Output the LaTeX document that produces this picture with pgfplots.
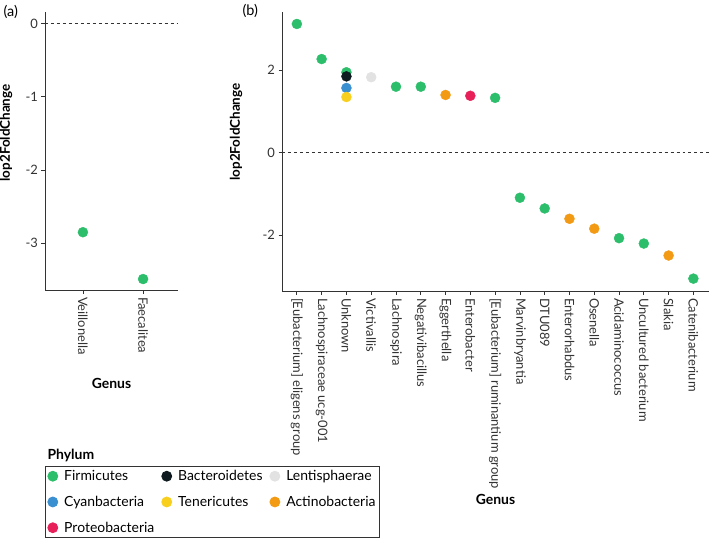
\documentclass[border=0pt]{standalone}
\usepackage{fontspec}
\setmainfont{Lato}
\usepackage{pgfplots}
\pgfplotsset{compat=1.18}

\definecolor{firm}{HTML}{2DBE6C}
\definecolor{bact}{HTML}{0E1A1F}
\definecolor{lent}{HTML}{E2E2E2}
\definecolor{cyano}{HTML}{3A8FD0}
\definecolor{tene}{HTML}{F8CF1C}
\definecolor{acti}{HTML}{F39A15}
\definecolor{prot}{HTML}{E8205A}
\definecolor{axgray}{HTML}{333333}

\pgfplotsset{
  volc/.style={
    scale only axis,
    axis x line*=bottom, axis y line*=left,
    axis line style={axgray, line width=0.9pt},
    tick style={axgray, line width=0.8pt},
    tick align=outside, major tick length=3.5bp,
    tick label style={font=\fontsize{13}{15}\selectfont, text=axgray},
    /pgf/number format/assume math mode=true,
    ylabel style={font=\bfseries\fontsize{13.5}{15}\selectfont},
    xlabel style={font=\bfseries\fontsize{14}{16}\selectfont},
    x tick label style={rotate=-90, anchor=west},
    clip=false,
  },
  pt/.style={only marks, mark=*, mark size=5bp, color=#1, mark options={draw=#1, fill=#1}},
}

\begin{document}
\begin{tikzpicture}
\useasboundingbox (0,0) rectangle (709bp,-539bp);

% panel (a)
\begin{axis}[volc,
  at={(45bp,-290bp)}, anchor=south west,
  width=133bp, height=278bp,
  xmin=-0.63, xmax=1.58, ymin=-3.64, ymax=0.16,
  xtick={0,1}, xticklabels={Veillonella, Faecalitea},
  ytick={-3,-2,-1,0},
  ylabel={lop2FoldChange}, xlabel={Genus},
  ylabel style={at={(axis description cs:-0.22,0.565)}},
  xlabel style={at={(axis description cs:0.5,-0.305)}},
]
\addplot[black!80, dashed, line width=0.6pt, forget plot] coordinates {(-0.63,0) (1.58,0)};
\addplot[pt=firm] coordinates {(0,-2.85) (1,-3.49)};
\end{axis}
\node[anchor=west, font=\fontsize{14.5}{16}\selectfont] at (0bp,-12bp) {(a)};

% panel (b)
\begin{axis}[volc,
  at={(282bp,-291bp)}, anchor=south west,
  width=427bp, height=279bp,
  xmin=-0.6, xmax=16.63, ymin=-3.35, ymax=3.41,
  xtick={0,...,16},
  xticklabels={{[Eubacterium] eligens group}, {Lachnospiraceae ucg-001}, {Unknown},
    {Victivallis}, {Lachnospira}, {Negativibacillus}, {Eggerthella}, {Enterobacter},
    {[Eubacterium] ruminantium group}, {Marvinbryantia}, {DTU089}, {Enterorhabdus},
    {Osenella}, {Acidaminococcus}, {Uncultured bacterium}, {Slakia}, {Catenibacterium}},
  ytick={-2,0,2},
  ylabel={lop2FoldChange}, xlabel={Genus},
  ylabel style={at={(axis description cs:-0.085,0.57)}},
  xlabel style={at={(axis description cs:0.5,-0.715)}},
  legend columns=3,
  legend style={at={(axis description cs:-0.555,-0.627)}, anchor=north west,
    draw=axgray, line width=0.8pt, font=\fontsize{14}{16}\selectfont,
    inner xsep=2bp, inner ysep=2bp, row sep=10bp,
    /tikz/every odd column/.append style={column sep=4bp},
    /tikz/every even column/.append style={column sep=5bp}},
  legend cell align=left,
  legend image code/.code={\fill[#1] (0.25em,0) circle (5bp);},
]
\addplot[black!80, dashed, line width=0.6pt, forget plot] coordinates {(-0.6,0) (16.63,0)};
\addplot[pt=firm] coordinates {(0,3.12) (1,2.27) (2,1.95) (4,1.60) (5,1.60) (8,1.33)
  (9,-1.09) (10,-1.35) (13,-2.07) (14,-2.20) (16,-3.05)};
\addlegendentry{Firmicutes}
\addplot[pt=bact] coordinates {(2,1.85)};
\addlegendentry{Bacteroidetes}
\addplot[pt=lent] coordinates {(3,1.83)};
\addlegendentry{Lentisphaerae}
\addplot[pt=cyano] coordinates {(2,1.57)};
\addlegendentry{Cyanbacteria}
\addplot[pt=tene] coordinates {(2,1.35)};
\addlegendentry{Tenericutes}
\addplot[pt=acti] coordinates {(6,1.40) (11,-1.60) (12,-1.84) (15,-2.49)};
\addlegendentry{Actinobacteria}
\addplot[pt=prot] coordinates {(7,1.38)};
\addlegendentry{Proteobacteria}
\end{axis}
\node[anchor=west, font=\fontsize{14.5}{16}\selectfont] at (239bp,-11bp) {(b)};
\node[anchor=west, font=\bfseries\fontsize{14}{16}\selectfont] at (44bp,-455bp) {Phylum};
\end{tikzpicture}
\end{document}
